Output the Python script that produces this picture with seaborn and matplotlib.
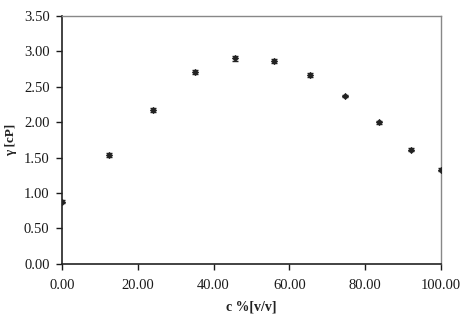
import numpy as np
import pandas as pd
import matplotlib
matplotlib.use("Agg")
import matplotlib.pyplot as plt
import seaborn as sns

# data
conc = [0.0, 12.5, 24.0, 35.0, 45.6, 56.0, 65.5, 74.8, 83.6, 92.0, 100.0]
visc = [0.88, 1.54, 2.17, 2.71, 2.90, 2.86, 2.67, 2.37, 2.00, 1.61, 1.33]
err = [0.02, 0.03, 0.03, 0.03, 0.03, 0.03, 0.03, 0.02, 0.02, 0.02, 0.02]

x_ticks = [0, 20, 40, 60, 80, 100]
y_ticks = [0, 0.5, 1.0, 1.5, 2.0, 2.5, 3.0, 3.5]

df = pd.DataFrame({"c": conc, "v": visc, "e": err})

sns.set_style("ticks")
plt.rcParams['font.family'] = ['Liberation Serif', 'DejaVu Serif']

fig = plt.figure(figsize=(4.7, 3.25), dpi=100)
ax = fig.add_axes([0.132, 0.188, 0.806, 0.763])

ax.errorbar(df["c"], df["v"], yerr=df["e"], fmt="none", ecolor="#222222",
            elinewidth=0.8, capsize=2.5, capthick=1.0)
sns.scatterplot(data=df, x="c", y="v", ax=ax, marker="D", s=10,
                color="#222222", edgecolor="#222222", linewidth=0.5, zorder=3)

ax.set_xlim(0, 100)
ax.set_ylim(0, 3.5)
ax.set_xticks(x_ticks)
ax.set_xticklabels([f"{t:.2f}" for t in x_ticks])
ax.set_yticks(y_ticks)
ax.set_yticklabels([f"{t:.2f}" for t in y_ticks])
ax.tick_params(axis="both", labelsize=10.5, length=4, width=1, direction="out",
               colors="#1a1a1a", pad=5)
ax.tick_params(axis="x", pad=7)

for side in ["left", "bottom"]:
    ax.spines[side].set_color("#222222")
    ax.spines[side].set_linewidth(1.2)
for side in ["top", "right"]:
    ax.spines[side].set_visible(True)
    ax.spines[side].set_color("#888888")
    ax.spines[side].set_linewidth(1.0)

ax.set_xlabel("c %[v/v]", fontsize=10, fontweight="bold", color="#222222", labelpad=6)
ax.set_ylabel("γ [cP]", fontsize=9.5, fontweight="bold", color="#222222", labelpad=5)

fig.savefig("out.png", dpi=100)
